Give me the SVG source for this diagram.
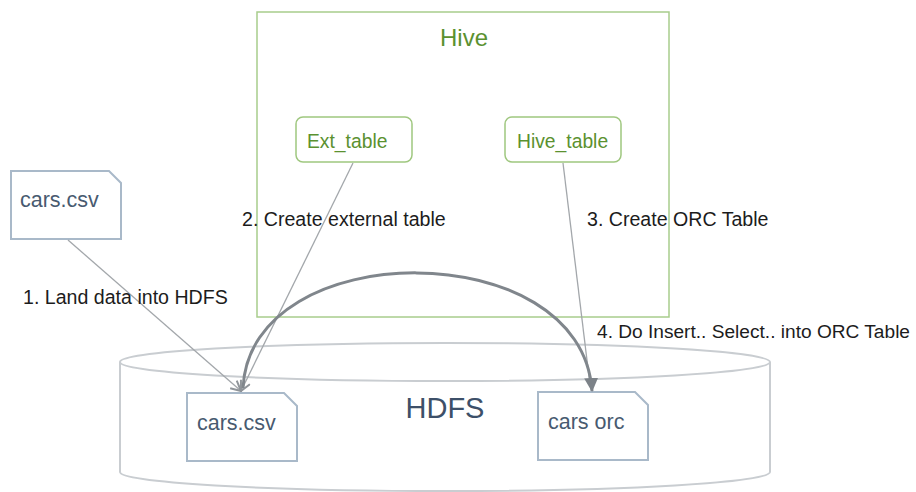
<svg xmlns="http://www.w3.org/2000/svg" width="916" height="492" viewBox="0 0 916 492">
<style>
.cyl{fill:none;stroke:#c9cdd1;stroke-width:2}
.doc{fill:#fff;stroke:#a9b9c9;stroke-width:2}
.doct{font-family:"Liberation Sans",Arial,sans-serif;font-size:21.5px;fill:#485a70}
.hive{fill:none;stroke:#a8cd8c;stroke-width:1.5}
.tbl{fill:#fff;stroke:#9fc77f;stroke-width:1.5}
.gt{font-family:"Liberation Sans",Arial,sans-serif;fill:#5b9130}
.lbl{font-family:"Liberation Sans",Arial,sans-serif;font-size:19.6px;fill:#1c1c1c}
.thin{fill:none;stroke:#a3a7ab;stroke-width:1.3}
.arc{fill:none;stroke:#80868c;stroke-width:3}
</style>
<defs>
<marker id="open" viewBox="0 0 12 12" refX="11" refY="6" markerWidth="12" markerHeight="12" markerUnits="userSpaceOnUse" orient="auto">
<path d="M1,1 L11,6 L1,11" fill="none" stroke="#8f9499" stroke-width="2"/>
</marker>
<marker id="solid" viewBox="0 0 14 14" refX="13" refY="7" markerWidth="14" markerHeight="14" markerUnits="userSpaceOnUse" orient="auto">
<path d="M0,0 L14,7 L0,14 Z" fill="#7c8288"/>
</marker>
</defs>

<g id="hdfs">
<path class="cyl" d="M120,362 V472 A325,19 0 0 0 770,472 V362"/>
<ellipse class="cyl" cx="445" cy="362" rx="325" ry="19"/>
<text x="445" y="418" text-anchor="middle" style="font-family:'Liberation Sans',Arial,sans-serif;font-size:29px;fill:#3d5069">HDFS</text>
</g>

<g id="hive">
<rect class="hive" x="257" y="12" width="412" height="305"/>
<text class="gt" x="464" y="46" text-anchor="middle" font-size="24">Hive</text>
</g>

<g id="ext_table">
<rect class="tbl" x="296" y="117" width="116" height="45" rx="7"/>
<text class="gt" x="307" y="148" font-size="19.3">Ext_table</text>
</g>

<g id="hive_table">
<rect class="tbl" x="505" y="117" width="116" height="45" rx="7"/>
<text class="gt" x="517" y="148" font-size="19.3">Hive_table</text>
</g>

<g id="cars_csv_src">
<path class="doc" d="M11,171 H109 L121,183 V239 H11 Z"/>
<text class="doct" x="20" y="207">cars.csv</text>
</g>

<g id="cars_csv_hdfs">
<path class="doc" d="M187,393 H284 L297,406 V461 H187 Z"/>
<text class="doct" x="197" y="430">cars.csv</text>
</g>

<g id="cars_orc">
<path class="doc" d="M538,392 H635 L648,405 V460 H538 Z"/>
<text class="doct" x="548" y="429">cars orc</text>
</g>

<g id="connectors">
<path class="thin" d="M68,240 L241,391" marker-end="url(#open)"/>
<path class="thin" d="M353,163 L241,391" marker-end="url(#open)"/>
<path class="thin" d="M563,163 L590,385"/>
<path class="arc" d="M243,388 C250,234 582,234 592,391" marker-end="url(#solid)"/>
</g>

<g id="labels">
<text class="lbl" x="23" y="304">1. Land data into HDFS</text>
<text class="lbl" x="242" y="226">2. Create external table</text>
<text class="lbl" x="587" y="226">3. Create ORC Table</text>
<text class="lbl" x="597" y="338" style="font-size:19.2px" textLength="313" lengthAdjust="spacingAndGlyphs">4. Do Insert.. Select.. into ORC Table</text>
</g>
</svg>
